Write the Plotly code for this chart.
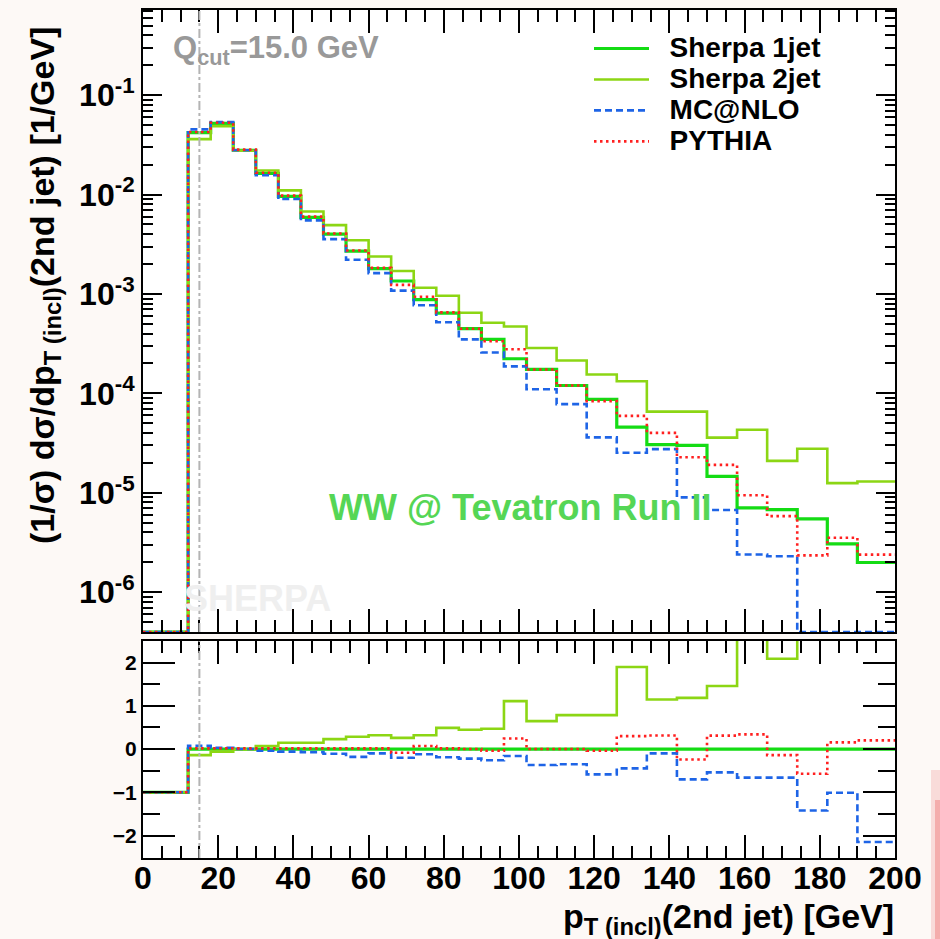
import plotly.graph_objects as go

# Bin edges of the second-jet pT histogram [GeV]
bin_edges = [0, 12, 18, 24, 30, 36, 42, 48, 54, 60, 66, 72, 78, 84, 90, 96, 102,
             110, 118, 126, 134, 142, 150, 158, 166, 174, 182, 190, 200]

# Normalised distributions (1/sigma dsigma/dpT) per bin [1/GeV]
sherpa_1jet = [0, 0.042, 0.0519, 0.0279, 0.0163, 0.0096, 0.0059, 0.0040, 0.0027, 0.0018,
               0.00135, 0.000875, 0.000643, 0.000447, 0.000349, 0.000223, 0.000174,
               0.000120, 8.7e-5, 4.57e-5, 3.05e-5, 3.0e-5, 1.46e-5, 7.05e-6, 6.78e-6,
               5.46e-6, 3.06e-6, 1.99e-6]
sherpa_2jet = [0, 0.0361, 0.0488, 0.0276, 0.01744, 0.0110, 0.00676, 0.00492, 0.00347,
               0.00238, 0.0017, 0.001155, 0.000958, 0.000646, 0.000513, 0.00047,
               0.000286, 0.000214, 0.000155, 0.0001325, 6.55e-5, 6.56e-5, 3.59e-5,
               4.3e-5, 2.095e-5, 2.77e-5, 1.25e-5, 1.30e-5]
mcatnlo = [0, 0.0452, 0.0535, 0.0279, 0.01565, 0.00902, 0.00549, 0.00356, 0.00221,
           0.00162, 0.00108, 0.00077, 0.00052, 0.000349, 0.000258, 0.000187, 0.00011,
           7.8e-5, 3.61e-5, 2.53e-5, 2.75e-5, 9.0e-6, 6.72e-6, 2.4e-6, 2.3e-6, 0, 0, 0]
pythia = [0, 0.0426, 0.0527, 0.0283, 0.01655, 0.00974, 0.00599, 0.00406, 0.00274,
          0.00183, 0.001235, 0.000936, 0.000653, 0.000447, 0.000335, 0.000278,
          0.000174, 0.000120, 8.35e-5, 5.94e-5, 4.01e-5, 2.28e-5, 1.91e-5, 9.45e-6,
          5.83e-6, 2.35e-6, 3.53e-6, 2.39e-6]

# Relative deviation from Sherpa 1jet, (X - ref) / ref
ratio_1jet = [-1] + [0] * 27
ratio_2jet = [-1, -0.14, -0.06, -0.01, 0.07, 0.146, 0.146, 0.23, 0.285, 0.32, 0.26, 0.32,
              0.49, 0.446, 0.47, 1.108, 0.646, 0.785, 0.785, 1.90, 1.146, 1.185, 1.46,
              5.1, 2.09, 4.07, 3.08, 5.5]
ratio_mcatnlo = [-1, 0.077, 0.03, 0.0, -0.04, -0.06, -0.07, -0.11, -0.18, -0.10, -0.2,
                 -0.12, -0.19, -0.22, -0.26, -0.16, -0.37, -0.35, -0.585, -0.446, -0.10,
                 -0.70, -0.54, -0.66, -0.66, -1.42, -1.01, -2.15]
ratio_pythia = [-1, 0.015, 0.015, 0.015, 0.015, 0.015, 0.015, 0.015, 0.015, 0.015, -0.085,
                0.07, 0.015, 0.0, -0.04, 0.246, 0.0, 0.0, -0.04, 0.30, 0.315, -0.24, 0.31,
                0.34, -0.14, -0.57, 0.154, 0.2]

q_cut = 15.0
tick_pt = [0, 20, 40, 60, 80, 100, 120, 140, 160, 180, 200]
tick_log = [1e-6, 1e-5, 1e-4, 1e-3, 1e-2, 1e-1]
tick_log_text = ["10<sup>-6</sup>", "10<sup>-5</sup>", "10<sup>-4</sup>",
                 "10<sup>-3</sup>", "10<sup>-2</sup>", "10<sup>-1</sup>"]
tick_ratio = [-2, -1, 0, 1, 2]

LOG_RANGE = [-6.4, -0.144]
FLOOR = 10 ** LOG_RANGE[0]

series = [
    ("Sherpa 1jet", sherpa_1jet, ratio_1jet, "#14dc14", None, 3.2),
    ("Sherpa 2jet", sherpa_2jet, ratio_2jet, "#8cd614", None, 2.6),
    ("MC@NLO", mcatnlo, ratio_mcatnlo, "#1e64e6", "7px,4px", 2.6),
    ("PYTHIA", pythia, ratio_pythia, "#ff2020", "2.5px,3.5px", 2.6),
]

FONT = "Liberation Sans"
fig = go.Figure()

for name, vals, ratio, color, dash, width in series:
    shown = [v if v > 0 else FLOOR for v in vals]
    line = dict(color=color, width=width, shape="hv")
    if dash:
        line["dash"] = dash
    label = "<span style='font-size:28px'>\u00a0\u00a0" + name + "</span>"
    fig.add_trace(go.Scatter(
        x=bin_edges, y=shown + [shown[-1]], mode="lines", line=line,
        name=label, xaxis="x", yaxis="y", hoverinfo="skip"))
    fig.add_trace(go.Scatter(
        x=bin_edges, y=ratio + [ratio[-1]], mode="lines", line=line,
        name=name, showlegend=False, xaxis="x2", yaxis="y2", hoverinfo="skip"))

W, H = 940, 939
x_dom = [143 / W, 895 / W]
y_top = [1 - 632 / H, 1 - 10 / H]
y_bot = [1 - 858 / H, 1 - 641 / H]

tickfont = dict(family=FONT, size=32, color="black", weight="bold")
x_common = dict(range=[0, 200], domain=x_dom, tickvals=tick_pt, ticks="inside",
                ticklen=23, tickwidth=1.5, tickcolor="black", showline=True,
                linecolor="black", linewidth=2, mirror="allticks", showgrid=False,
                zeroline=False, automargin=False,
                minor=dict(ticks="inside", ticklen=12, tickwidth=1.5,
                           tickcolor="black", dtick=5, showgrid=False))

fig.update_layout(
    template="none",
    width=W, height=H, autosize=False,
    margin=dict(l=0, r=0, t=0, b=0, pad=0),
    paper_bgcolor="#fdf9f6", plot_bgcolor="white",
    xaxis=dict(x_common, anchor="y", showticklabels=False),
    yaxis=dict(type="log", range=LOG_RANGE, domain=y_top, anchor="x",
               tickvals=tick_log, ticktext=tick_log_text, tickfont=tickfont,
               ticks="inside", ticklen=19, tickwidth=1.5, tickcolor="black",
               showline=True, linecolor="black", linewidth=2, mirror="allticks",
               showgrid=False, zeroline=False, automargin=False,
               minor=dict(ticks="inside", ticklen=10, tickwidth=1.5,
                          tickcolor="black", dtick="D1", showgrid=False)),
    xaxis2=dict(x_common, anchor="y2", tickfont=tickfont, ticklabelstandoff=-9),
    yaxis2=dict(range=[-2.52, 2.5], domain=y_bot, anchor="x2", tickvals=tick_ratio,
                tickfont=dict(family=FONT, size=21, color="black", weight="bold"),
                ticks="inside", ticklen=32, tickwidth=1.5, tickcolor="black",
                showline=True, linecolor="black", linewidth=2, mirror="allticks",
                showgrid=False, zeroline=False, automargin=False,
                minor=dict(ticks="inside", ticklen=17, tickwidth=1.5,
                           tickcolor="black", dtick=0.5, showgrid=False)),
    legend=dict(x=589 / W, y=1 - 28 / H, xanchor="left", yanchor="top",
                bgcolor="rgba(0,0,0,0)", borderwidth=0, itemwidth=55,
                tracegroupgap=0,
                font=dict(family=FONT, size=21.5, color="black", weight="bold")),
    showlegend=True,
)

# Q_cut marker in both panels
for yref in ("y domain", "y2 domain"):
    fig.add_shape(type="line", xref="x" if yref == "y domain" else "x2", yref=yref,
                  x0=q_cut, x1=q_cut, y0=0, y1=1,
                  line=dict(color="#b4b4b4", width=2, dash="dashdot"))

fig.add_annotation(xref="paper", yref="paper", x=171 / W, y=1 - 28 / H,
                   xanchor="left", yanchor="top", showarrow=False,
                   text=f"Q<sub>cut</sub>={q_cut:.1f} GeV",
                   font=dict(family=FONT, size=31, color="#999999", weight="bold"))

fig.add_annotation(xref="paper", yref="paper", x=520 / W, y=1 - 508 / H,
                   xanchor="center", yanchor="middle", showarrow=False,
                   text="WW @ Tevatron Run II",
                   font=dict(family=FONT, size=36, color="#55d655", weight="bold"))

fig.add_annotation(xref="paper", yref="paper", x=257 / W, y=1 - 598 / H,
                   xanchor="center", yanchor="middle", showarrow=False,
                   text="SHERPA",
                   font=dict(family=FONT, size=36, color="#efefef", weight="bold"))

fig.add_annotation(xref="paper", yref="paper", x=44 / W, y=1 - 286 / H,
                   xanchor="center", yanchor="middle", showarrow=False, textangle=-90,
                   text="(1/σ) dσ/dp<sub>T (incl)</sub>(2nd jet) [1/GeV]",
                   font=dict(family=FONT, size=34, color="black", weight="bold"))

fig.add_annotation(xref="paper", yref="paper", x=896 / W, y=1 - 918 / H,
                   xanchor="right", yanchor="middle", showarrow=False,
                   text="p<sub>T (incl)</sub>(2nd jet) [GeV]",
                   font=dict(family=FONT, size=34, color="black", weight="bold"))

# faint pink strip along the right edge
fig.add_shape(type="rect", xref="paper", yref="paper", x0=931 / W, x1=1,
              y0=0, y1=1 - 770 / H, line=dict(width=0),
              fillcolor="rgba(240,130,130,0.25)", layer="below")
fig.add_shape(type="rect", xref="paper", yref="paper", x0=935 / W, x1=1,
              y0=0, y1=1 - 800 / H, line=dict(width=0),
              fillcolor="rgba(235,90,90,0.35)", layer="below")

fig.write_html("out.html", config={"responsive": False, "displayModeBar": False})
